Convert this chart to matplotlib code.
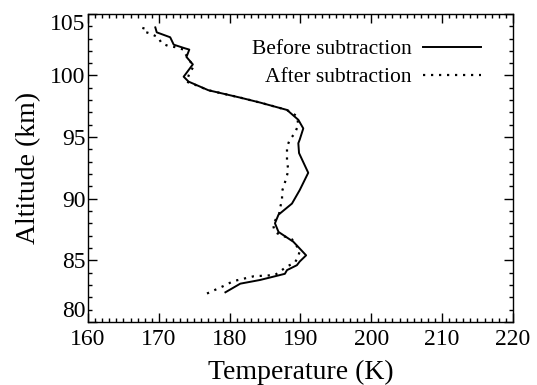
import matplotlib
matplotlib.use("Agg")
import matplotlib.pyplot as plt
from matplotlib.ticker import MultipleLocator

# temperature profiles (bottom -> top)
alt_before = [82.4, 83.1, 83.4, 83.6, 83.9, 84.2, 84.6, 84.9, 85.4, 86.5, 87.3, 88.0, 88.7,
              89.6, 90.7, 92.1, 93.7, 94.5, 94.8, 95.7, 96.4, 97.2, 97.8, 98.2, 98.8,
              99.5, 99.9, 100.05, 100.9, 101.1, 101.5, 102.1, 102.2, 102.5, 103.1, 103.5, 103.9]
temp_before = [179.4, 181.5, 184.3, 185.7, 187.8, 188.1, 189.5, 189.9, 190.8, 189.0, 186.9, 186.4, 186.9,
               188.8, 189.9, 191.1, 189.8, 189.7, 189.9, 190.4, 189.7, 188.1, 184.3, 181.5, 177.0,
               174.2, 173.5, 173.7, 174.8, 174.5, 173.9, 174.3, 173.7, 172.1, 171.6, 169.7, 169.5]

alt_after = [82.3, 82.9, 83.3, 83.7, 83.8, 84.5, 84.8, 85.3, 85.8, 86.7, 87.1, 87.3, 87.9,
             88.8, 89.2, 89.9, 90.6, 91.3, 92.3, 93.0, 93.6, 94.2, 94.8, 95.3, 96.0, 96.7,
             97.2, 97.8, 98.2, 98.8, 99.2, 99.5, 100.3, 100.7, 101.8, 102.1, 102.3, 102.4,
             102.6, 103.1, 103.4, 103.6, 104.0]
temp_after = [176.8, 179.1, 180.5, 183.4, 186.4, 188.1, 189.2, 189.7, 189.9, 188.8, 187.0, 186.4, 186.1,
              187.0, 187.1, 187.4, 187.4, 187.8, 188.3, 188.1, 188.1, 188.1, 188.5, 189.2, 189.7, 189.5,
              188.1, 184.3, 181.5, 177.0, 175.3, 173.9, 174.4, 174.9, 173.7, 173.5, 172.3, 171.3,
              170.4, 169.9, 168.8, 167.7, 167.9]

x_ticks = [160, 170, 180, 190, 200, 210, 220]
y_ticks = [80, 85, 90, 95, 100, 105]

plt.rcParams["font.family"] = ["Liberation Serif", "DejaVu Serif"]

fig = plt.figure(figsize=(5.37, 3.85), dpi=100)
ax = fig.add_axes([0.164, 0.164, 0.791, 0.800])

ax.plot(temp_before, alt_before, color="black", lw=1.4, label="Before subtraction")
ax.plot(temp_after, alt_after, color="black", lw=1.6, linestyle=(0, (1, 2.6)),
        label="After subtraction")

ax.set_xlim(x_ticks[0], x_ticks[-1])
ax.set_ylim(y_ticks[0], y_ticks[-1])
ax.set_xticks(x_ticks)
ax.set_yticks(y_ticks)
ax.xaxis.set_minor_locator(MultipleLocator(1))
ax.yaxis.set_minor_locator(MultipleLocator(1))
ax.tick_params(which="both", direction="in", top=True, right=True, width=1, labelsize=17)
ax.tick_params(which="major", length=6.5)
ax.tick_params(axis="x", which="major", pad=5)
ax.tick_params(axis="y", which="major", pad=2)
ax.tick_params(which="minor", length=3)
for s in ax.spines.values():
    s.set_linewidth(1)

# end labels on the y axis are kept inside the axis range, like IDL does
ylabels = ax.get_yticklabels()
ylabels[0].set_va("bottom")
ylabels[-1].set_va("top")

ax.set_xlabel("Temperature (K)", fontsize=20, labelpad=7)
ax.set_ylabel("Altitude (km)", fontsize=20, labelpad=6)

ax.legend(loc="upper right", bbox_to_anchor=(0.946, 0.945), frameon=False, markerfirst=False,
          fontsize=15.5, handlelength=2.7, handletextpad=0.55, labelspacing=0.35,
          borderaxespad=0)

fig.savefig("out.png", dpi=100)
